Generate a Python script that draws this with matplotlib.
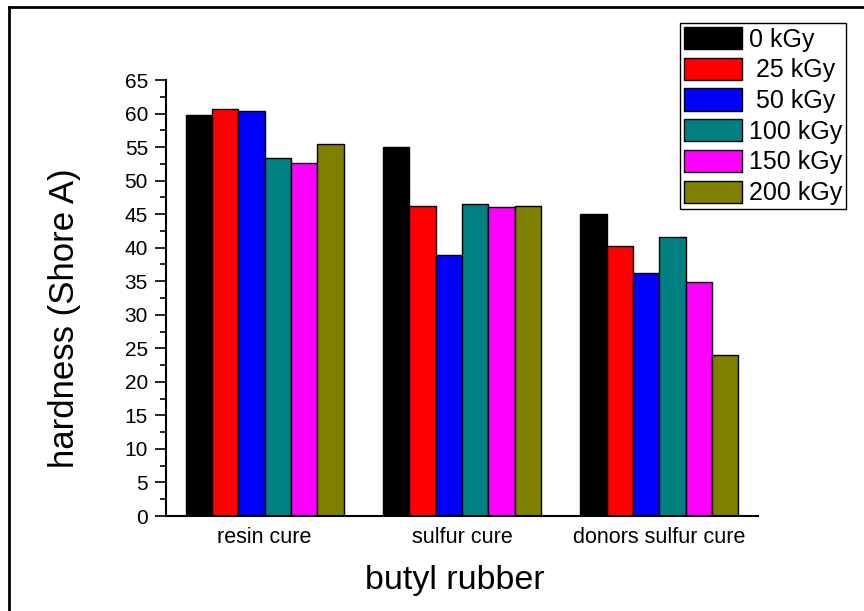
import matplotlib
matplotlib.use("Agg")
import matplotlib.pyplot as plt
import numpy as np
from matplotlib.lines import Line2D
from matplotlib.ticker import MultipleLocator

plt.rcParams['font.family'] = ['Liberation Sans', 'DejaVu Sans']

categories = ["resin cure", "sulfur cure", "donors sulfur cure"]
doses = ["0 kGy", " 25 kGy", " 50 kGy", "100 kGy", "150 kGy", "200 kGy"]
hardness_0 = [59.8, 55.0, 45.0]
hardness_25 = [60.7, 46.2, 40.3]
hardness_50 = [60.4, 38.9, 36.3]
hardness_100 = [53.4, 46.5, 41.6]
hardness_150 = [52.6, 46.0, 34.9]
hardness_200 = [55.4, 46.2, 24.0]
series = [hardness_0, hardness_25, hardness_50, hardness_100, hardness_150, hardness_200]
colors = ["#000000", "#FF0000", "#0000FF", "#008080", "#FF00FF", "#808000"]

fig = plt.figure(figsize=(8.64, 6.11), dpi=100)
ax = fig.add_axes([166 / 864, 1 - 516 / 611, (758 - 166) / 864, (516 - 80) / 611])

x = np.arange(1, len(categories) + 1)
n = len(series)
group_w = 0.8
w = group_w / n
for i, (vals, c, lab) in enumerate(zip(series, colors, doses)):
    offs = -group_w / 2 + w * (i + 0.5)
    ax.bar(x + offs, vals, width=w, color=c, edgecolor="black", linewidth=1.0, label=lab)

ax.set_xlim(0.5, 3.5)
ax.set_ylim(0, 65)
ax.yaxis.set_major_locator(MultipleLocator(5))
ax.yaxis.set_minor_locator(MultipleLocator(2.5))
ax.set_xticks(x)
ax.set_xticklabels(categories)
ax.tick_params(axis='x', length=0, labelsize=15.5, pad=8)
ax.tick_params(axis='y', which='major', direction='out', length=8, width=1.2, labelsize=15, pad=5)
ax.tick_params(axis='y', which='minor', direction='out', length=4, width=1.2)

for s in ("top", "right"):
    ax.spines[s].set_visible(False)
for s in ("left", "bottom"):
    ax.spines[s].set_linewidth(1.5)

ax.set_xlabel("butyl rubber", fontsize=24.5, labelpad=14)
ax.xaxis.set_label_coords((455 - 166) / (758 - 166), -0.148)
ax.set_ylabel("hardness (Shore A)", fontsize=25)
ax.yaxis.set_label_coords(-(166 - 65) / (758 - 166) - 0.0, (516 - 318) / (516 - 80))
ax.yaxis.label.set_verticalalignment('center')
ax.xaxis.label.set_verticalalignment('center')

leg = ax.legend(loc="upper right", bbox_to_anchor=(846 / 864, 1 - 23 / 611),
                bbox_transform=fig.transFigure, fontsize=18, frameon=True,
                fancybox=False, edgecolor="black", framealpha=1,
                handlelength=2.3, handleheight=1.0, handletextpad=0.3,
                labelspacing=0.24, borderpad=0.15, borderaxespad=0)
leg.get_frame().set_linewidth(1.0)

# outer frame edges
fig.add_artist(Line2D([9 / 864, 9 / 864], [0, 1 - 7 / 611], transform=fig.transFigure,
                      color="black", linewidth=2))
fig.add_artist(Line2D([9 / 864, 1], [1 - 7 / 611, 1 - 7 / 611], transform=fig.transFigure,
                      color="black", linewidth=2))

fig.savefig("out.png", dpi=100)
